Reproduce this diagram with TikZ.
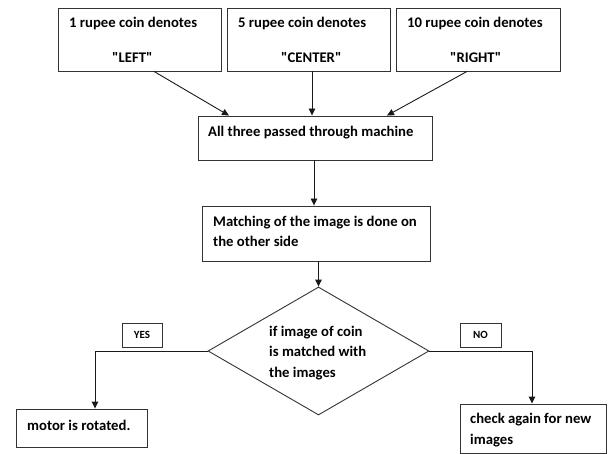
\documentclass[tikz,border=0pt]{standalone}
\usepackage{fontspec}
\setmainfont{Carlito}
\usetikzlibrary{arrows.meta, positioning, shapes.geometric}

\tikzset{
  flowbox/.style={draw=black!80, line width=0.9pt, inner sep=0pt},
  flowtext/.style={font=\bfseries\fontsize{14.7}{20.5}\selectfont, inner sep=0pt, anchor=base west, align=left},
  tagtext/.style={font=\bfseries\fontsize{11}{13}\selectfont, inner sep=0pt},
  flow/.style={draw=black!90, line width=0.9pt, -{Triangle[length=7pt,width=6.5pt]}}
}

\begin{document}
\begin{tikzpicture}[x=1pt, y=-1pt]
\useasboundingbox (0,0) rectangle (610,454);
% the three coins
\node [flowbox, minimum width=163, minimum height=63] (one) at (139.5,39.5) {};
\node [flowtext] (onea) at (69,28) {1 rupee coin denotes};
\node [flowtext] (oneb) at (112,63) {\textquotedbl LEFT\textquotedbl};
\node [flowbox, minimum width=163, minimum height=63] (five) at (308.5,39.5) {};
\node [flowtext] (fivea) at (238,28) {5 rupee coin denotes};
\node [flowtext] (fiveb) at (281,63) {\textquotedbl CENTER\textquotedbl};
\node [flowbox, minimum width=164, minimum height=63] (ten) at (478,39.5) {};
\node [flowtext] (tena) at (407,28) {10 rupee coin denotes};
\node [flowtext] (tenb) at (450,63) {\textquotedbl RIGHT\textquotedbl};
% machine and matching
\node [flowbox, minimum width=234, minimum height=44] (machine) at (315,138) {};
\node [flowtext] (machinet) at (208,137) {All three passed through machine};
\node [flowbox, minimum width=228, minimum height=55] (match) at (316,233.5) {};
\node [flowtext] (matcht) at (213,247) {Matching of the image is done on\\the other side};
% decision
\node [flowbox, diamond, minimum width=221, minimum height=128, aspect=1.73] (check) at (318.5,351) {};
\node [flowtext] (checkt) at (269,377) {if image of coin\\is matched with\\the images};
\node [flowbox, minimum width=40, minimum height=24] (yes) at (142,335) {};
\node [tagtext] (yest) at (yes) {YES};
\node [flowbox, minimum width=41, minimum height=24] (no) at (480.5,335) {};
\node [tagtext] (not) at (no) {NO};
% results
\node [flowbox, minimum width=131, minimum height=38] (motor) at (81.5,428) {};
\node [flowtext] (motort) at (27,430) {motor is rotated.};
\node [flowbox, minimum width=146, minimum height=49] (again) at (533,428.5) {};
\node [flowtext] (againt) at (470,444) {check again for new\\images};

\draw [flow] ([xshift=14.5]one.south) -- ([xshift=-86]machine.north);
\draw [flow] ([xshift=3.5]five.south) -- ([xshift=-3]machine.north);
\draw [flow] ([xshift=-11]ten.south) -- ([xshift=72]machine.north);
\draw [flow] ([xshift=-1]machine.south) -- ([xshift=-1]machine.south |- match.north);
\draw [flow] (check.north |- match.south) -- (check.north);
\draw [flow] (check.west) -| ([xshift=13.5]motor.north);
\draw [flow] (check.east) -| ([xshift=-1]again.north);
\end{tikzpicture}
\end{document}
